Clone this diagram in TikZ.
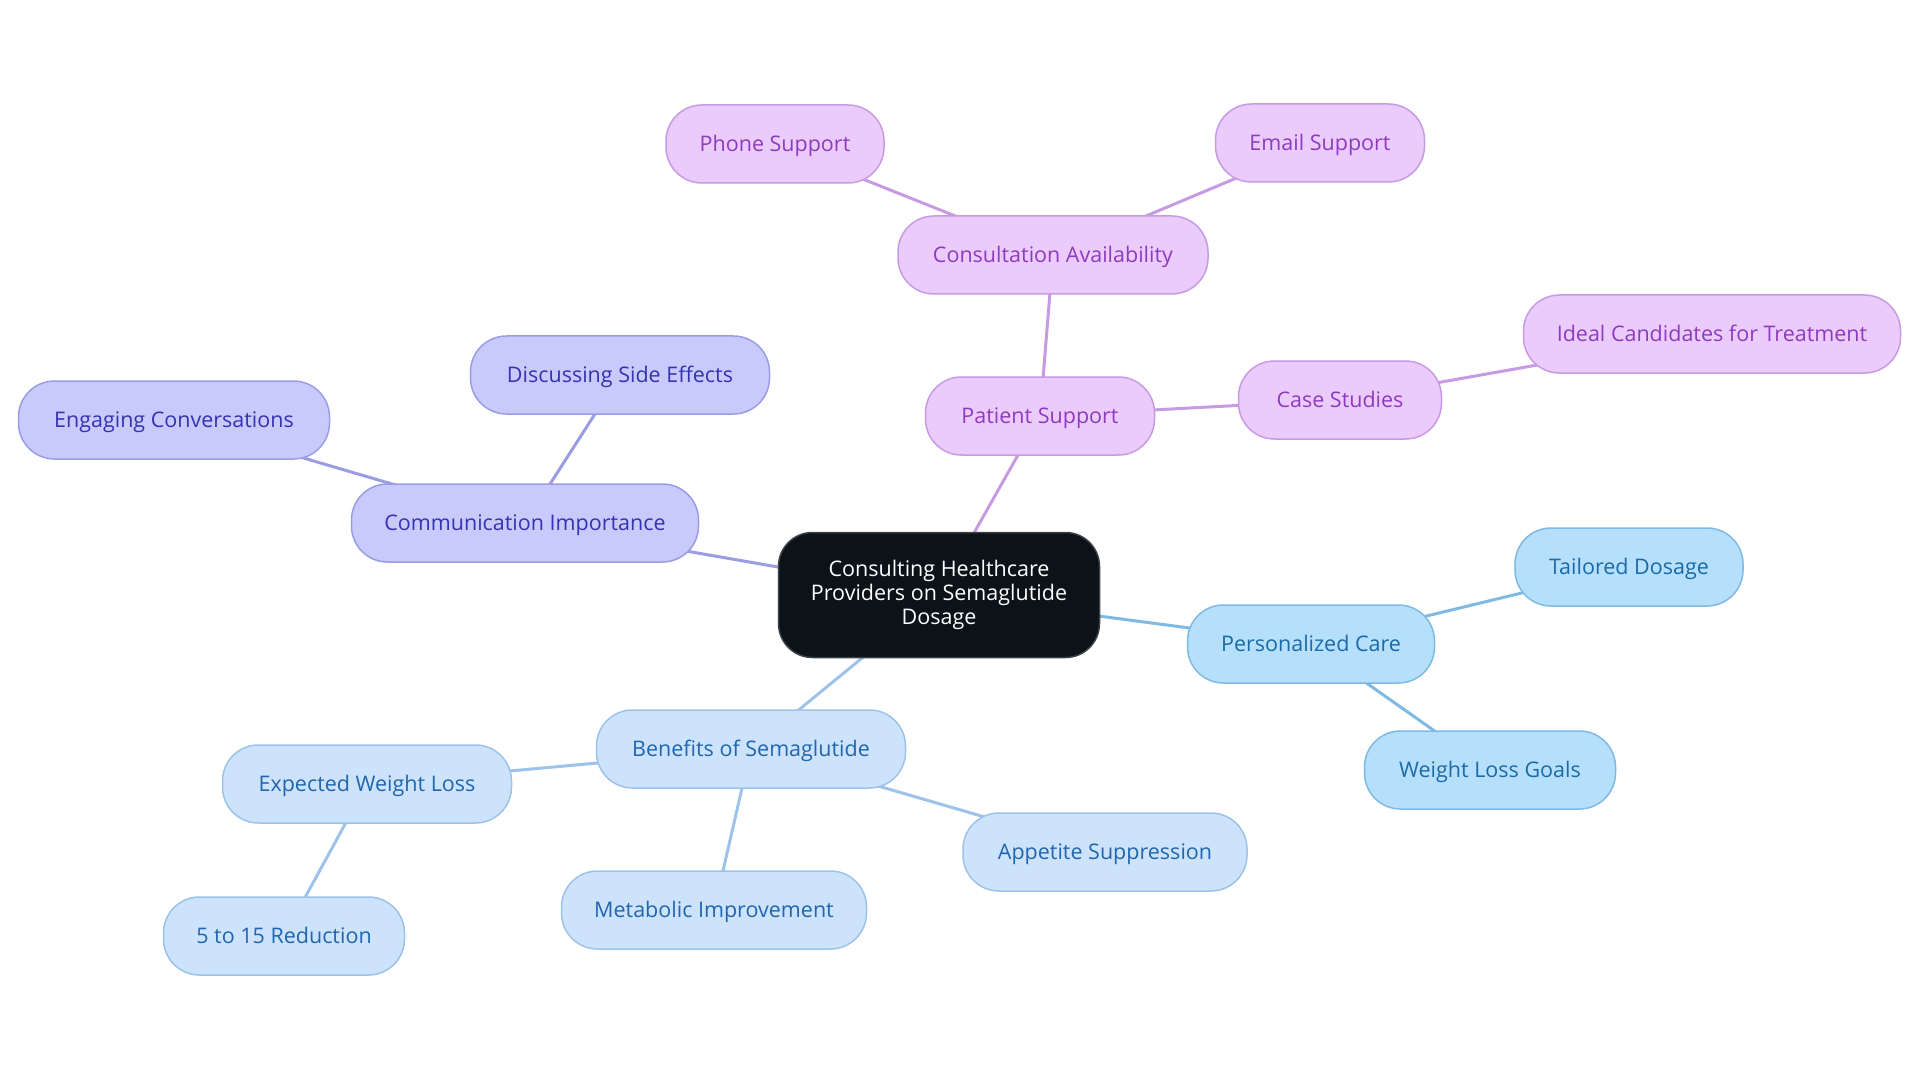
\documentclass[tikz,border=0pt]{standalone}
\usepackage{fontspec}
\setmainfont{Open Sans}
\usetikzlibrary{backgrounds}
\definecolor{pfill}{HTML}{EBCBFC}
\definecolor{pline}{HTML}{C79BE3}
\definecolor{ptext}{HTML}{8E3BBF}
\definecolor{ifill}{HTML}{C8CAFC}
\definecolor{iline}{HTML}{9B9DE3}
\definecolor{itext}{HTML}{3533B0}
\definecolor{bfill}{HTML}{B5DFFB}
\definecolor{bline}{HTML}{7FBAE3}
\definecolor{btext}{HTML}{1A6BA8}
\definecolor{lfill}{HTML}{CCE3FB}
\definecolor{lline}{HTML}{9EC3EA}
\definecolor{ltext}{HTML}{2066B0}
\definecolor{cfill}{HTML}{0B1218}
\tikzset{
  pill/.style={rounded corners=36pt, minimum height=78pt, inner sep=0pt, line width=1.5pt,
    font=\fontsize{21.5}{24}\selectfont, text height=22pt, text depth=6.5pt},
  purp/.style={pill, fill=pfill, draw=pline, text=ptext},
  indi/.style={pill, fill=ifill, draw=iline, text=itext},
  blu/.style={pill, fill=bfill, draw=bline, text=btext},
  lblu/.style={pill, fill=lfill, draw=lline, text=ltext},
  hub/.style={rounded corners=34pt, minimum width=321pt, minimum height=125pt, inner sep=0pt,
    fill=cfill, draw=cfill!80!white, line width=1.5pt, text=white, align=center,
    font=\fontsize{21.5}{24}\selectfont},
  link/.style={line width=3pt}
}
\begin{document}
\begin{tikzpicture}[x=1pt,y=-1pt]
\useasboundingbox (0,0) rectangle (1920,1083);
\node[hub] (c) at (939,595) {Consulting Healthcare\\Providers on Semaglutide\\Dosage};
% purple branch
\node[purp, minimum width=229pt] (ps) at (1040,416) {Patient Support};
\node[purp, minimum width=310pt] (ca) at (1053,255) {Consultation Availability};
\node[purp, minimum width=218pt] (ph) at (775,144) {Phone Support};
\node[purp, minimum width=209pt] (em) at (1320,143) {Email Support};
\node[purp, minimum width=203pt] (cs) at (1340,400) {Case Studies};
\node[purp, minimum width=377pt] (ic) at (1712,334) {Ideal Candidates for Treatment};
% indigo branch
\node[indi, minimum width=347pt] (ci) at (525,523) {Communication Importance};
\node[indi, minimum width=299pt] (ds) at (620,375) {Discussing Side Effects};
\node[indi, minimum width=311pt] (ec) at (174,420) {Engaging Conversations};
% blue branch
\node[blu, minimum width=247pt] (pc) at (1311,644) {Personalized Care};
\node[blu, minimum width=228pt] (td) at (1629,567) {Tailored Dosage};
\node[blu, minimum width=251pt] (wg) at (1490,770) {Weight Loss Goals};
% light blue branch
\node[lblu, minimum width=309pt] (bs) at (751,749) {Benefits of Semaglutide};
\node[lblu, minimum width=289pt] (ew) at (367,784) {Expected Weight Loss};
\node[lblu, minimum width=241pt] (fr) at (284,936) {5 to 15 Reduction};
\node[lblu, minimum width=305pt] (mi) at (714,910) {Metabolic Improvement};
\node[lblu, minimum width=284pt] (as) at (1105,852) {Appetite Suppression};
\begin{scope}[on background layer]
\fill[white] (0,0) rectangle (1920,1083);
\draw[link, pline] (c.center) -- (ps.center);
\draw[link, pline] (ps.center) -- (ca.center);
\draw[link, pline] (ca.center) -- (ph.center);
\draw[link, pline] (ca.center) -- (em.center);
\draw[link, pline] (ps.center) -- (cs.center);
\draw[link, pline] (cs.center) -- (ic.center);
\draw[link, iline] (c.center) -- (ci.center);
\draw[link, iline] (ci.center) -- (ds.center);
\draw[link, iline] (ci.center) -- (ec.center);
\draw[link, bline] (c.center) -- (pc.center);
\draw[link, bline] (pc.center) -- (td.center);
\draw[link, bline] (pc.center) -- (wg.center);
\draw[link, lline] (c.center) -- (bs.center);
\draw[link, lline] (bs.center) -- (ew.center);
\draw[link, lline] (ew.center) -- (fr.center);
\draw[link, lline] (bs.center) -- (mi.center);
\draw[link, lline] (bs.center) -- (as.center);
\end{scope}
\end{tikzpicture}
\end{document}
